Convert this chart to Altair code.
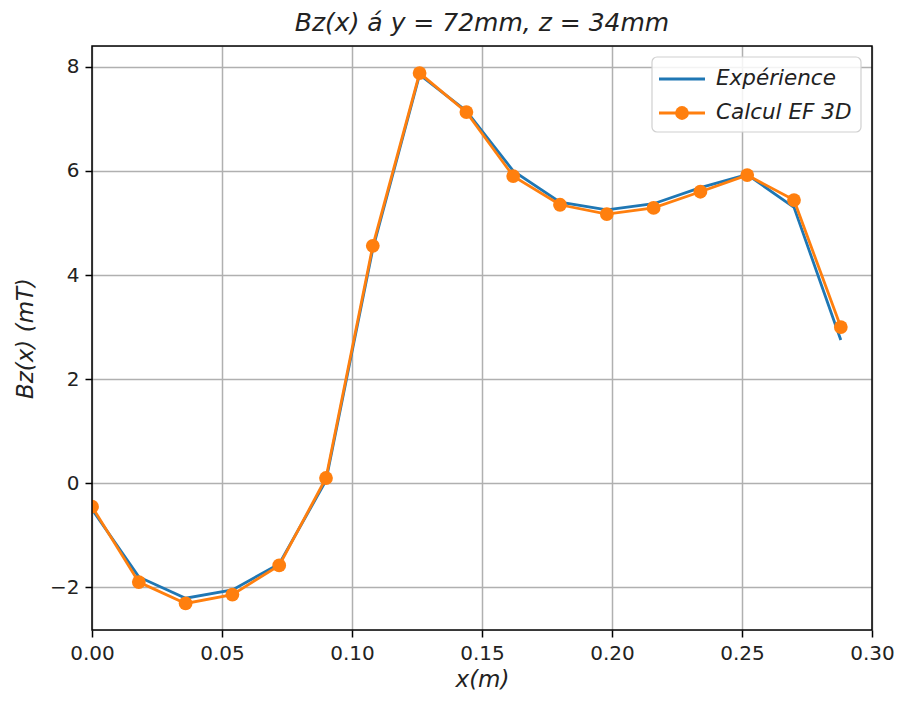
import altair as alt
import pandas as pd

x_vals = [0.000, 0.018, 0.036, 0.054, 0.072, 0.090, 0.108, 0.126, 0.144,
          0.162, 0.180, 0.198, 0.216, 0.234, 0.252, 0.270, 0.288]
experience = [-0.50, -1.80, -2.21, -2.05, -1.55, 0.05, 4.50, 7.85, 7.15,
              6.00, 5.40, 5.25, 5.37, 5.68, 5.93, 5.30, 2.75]
calcul = [-0.45, -1.90, -2.31, -2.14, -1.58, 0.10, 4.56, 7.88, 7.13,
          5.90, 5.35, 5.17, 5.29, 5.60, 5.92, 5.44, 3.00]
x_ticks = [0.00, 0.05, 0.10, 0.15, 0.20, 0.25, 0.30]
y_ticks = [-2, 0, 2, 4, 6, 8]
series_names = ["Expérience", "Calcul EF 3D"]
colors = ["#1f77b4", "#ff7f0e"]

df = pd.DataFrame({
    "x": x_vals * 2,
    "y": experience + calcul,
    "serie": [series_names[0]] * len(x_vals) + [series_names[1]] * len(x_vals),
})

W, H = 780, 584
FONT = "DejaVu Sans"

xs = alt.Scale(domain=[0, 0.30], nice=False, zero=False)
ys = alt.Scale(domain=[-2.82, 8.40], nice=False, zero=False)

common_axis = dict(grid=True, gridColor="#b0b0b0", gridWidth=1.5,
                   tickColor="black", tickSize=7, tickWidth=1.5,
                   domain=False, labelFontSize=20, labelColor="#222",
                   labelFlush=False, labelOverlap=False, labelFont=FONT,
                   titleFontSize=23, titleFontStyle="italic", titleFont=FONT,
                   titleFontWeight="normal", titleColor="#222")

xenc = alt.X("x:Q", scale=xs, title="x(m)",
             axis=alt.Axis(values=x_ticks, labelExpr="format(datum.value, '.2f')",
                           labelPadding=6, titlePadding=5, **common_axis))
yenc = alt.Y("y:Q", scale=ys, title="Bz(x) (mT)",
             axis=alt.Axis(values=y_ticks, format="d", labelPadding=6,
                           titlePadding=12, **common_axis))

base = alt.Chart(df)

blue = base.transform_filter(alt.datum.serie == series_names[0]).mark_line(
    color=colors[0], strokeWidth=2.8, clip=True).encode(x=xenc, y=yenc)
orange_line = base.transform_filter(alt.datum.serie == series_names[1]).mark_line(
    color=colors[1], strokeWidth=2.8, clip=True).encode(x=xenc, y=yenc)
orange_pts = base.transform_filter(alt.datum.serie == series_names[1]).mark_point(
    color=colors[1], filled=True, opacity=1, size=190, clip=True).encode(x=xenc, y=yenc)

one = pd.DataFrame({"a": [0]})

# frame
frame = alt.Chart(one).mark_rect(
    fill=None, stroke="black", strokeWidth=1.5).encode(
    x=alt.value(0), x2=alt.value(W), y=alt.value(0), y2=alt.value(H))

# legend
lx0, ly0 = 560, 11
leg_box = alt.Chart(one).mark_rect(
    fill="white", fillOpacity=0.85, stroke="#d0d0d0", strokeWidth=1.2, cornerRadius=5).encode(
    x=alt.value(lx0), x2=alt.value(lx0 + 209), y=alt.value(ly0), y2=alt.value(ly0 + 75))
leg_blue = alt.Chart(one).mark_rule(color=colors[0], strokeWidth=2.8).encode(
    x=alt.value(lx0 + 7), x2=alt.value(lx0 + 53), y=alt.value(ly0 + 22))
leg_orange = alt.Chart(one).mark_rule(color=colors[1], strokeWidth=2.8).encode(
    x=alt.value(lx0 + 7), x2=alt.value(lx0 + 53), y=alt.value(ly0 + 56))
leg_pt = alt.Chart(one).mark_point(
    color=colors[1], filled=True, opacity=1, size=190).encode(
    x=alt.value(lx0 + 30), y=alt.value(ly0 + 56))
leg_t1 = alt.Chart(one).mark_text(
    align="left", baseline="middle", font=FONT, fontSize=21.5, fontStyle="italic",
    color="#222", text=series_names[0]).encode(
    x=alt.value(lx0 + 64), y=alt.value(ly0 + 22))
leg_t2 = alt.Chart(one).mark_text(
    align="left", baseline="middle", font=FONT, fontSize=21.5, fontStyle="italic",
    color="#222", text=series_names[1]).encode(
    x=alt.value(lx0 + 64), y=alt.value(ly0 + 56))

chart = alt.layer(
    blue, orange_line, orange_pts, frame, leg_box, leg_blue, leg_orange, leg_pt,
    leg_t1, leg_t2
).properties(
    width=W, height=H,
    title=alt.TitleParams("Bz(x) á y = 72mm, z = 34mm", fontSize=25, fontStyle="italic",
                          fontWeight="normal", font=FONT, color="#222", offset=9),
    autosize=alt.AutoSizeParams(type="none"),
    padding={"left": 84, "top": 38, "right": 24, "bottom": 63},
).configure_view(stroke=None).configure(font=FONT)

chart.save("out.html", embed_options={"renderer": "svg", "actions": False})
